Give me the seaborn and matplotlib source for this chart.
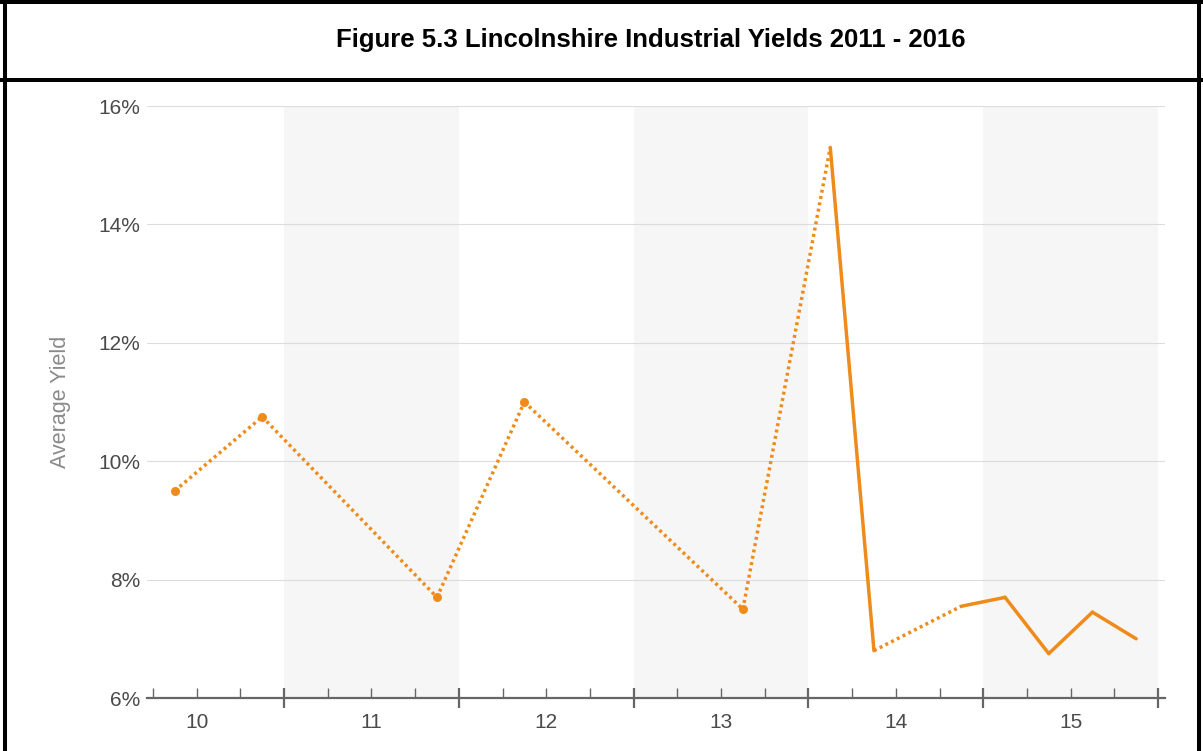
import matplotlib
matplotlib.use("Agg")
import matplotlib.pyplot as plt
from matplotlib.lines import Line2D
from matplotlib.ticker import FuncFormatter
import numpy as np
import pandas as pd
import seaborn as sns

# Quarterly average industrial yields (%)
years = [10, 10, 11, 12, 13, 14, 14, 14, 15, 15, 15, 15]
quarters = [2, 4, 4, 2, 3, 1, 2, 4, 1, 2, 3, 4]
yields = [9.5, 10.75, 7.7, 11.0, 7.5, 15.3, 6.8, 7.55, 7.7, 6.75, 7.45, 7.0]
year_labels = [10, 11, 12, 13, 14, 15]
y_ticks = [6, 8, 10, 12, 14, 16]

TITLE = "Figure 5.3 Lincolnshire Industrial Yields 2011 - 2016"
ORANGE = "#EF8B1A"
AXIS_GREY = "#666666"

sns.set_theme(style="white")
plt.rcParams["font.family"] = ["Liberation Sans", "DejaVu Sans"]

df = pd.DataFrame({"year": years, "quarter": quarters, "yield": yields})
df["pos"] = df["year"] - 0.5 + (df["quarter"] - 0.5) / 4
df["qidx"] = df["year"] * 4 + df["quarter"] - 1

# Split the series into segments: consecutive quarters solid, gaps dotted
rows = []
for i in range(len(df) - 1):
    a, b = df.iloc[i], df.iloc[i + 1]
    kind = "run" if b["qidx"] - a["qidx"] == 1 else "gap"
    for p in (a, b):
        rows.append({"seg": i, "kind": kind, "pos": p["pos"], "yield": p["yield"]})
seg_df = pd.DataFrame(rows)

# Points with no solid neighbour get a marker
consec = np.diff(df["qidx"].values) == 1
has_run = np.zeros(len(df), dtype=bool)
has_run[:-1] |= consec
has_run[1:] |= consec
iso = df[~has_run]

fig = plt.figure(figsize=(12.03, 7.51), dpi=100)
ax = fig.add_axes([147 / 1203, 53 / 751, 1018 / 1203, 592 / 751])

# alternating year bands
for n in year_labels:
    if n % 2 == 1:
        ax.axvspan(n - 0.5, n + 0.5, color="#f6f6f6", lw=0, zorder=0)

sns.lineplot(data=seg_df, x="pos", y="yield", units="seg", style="kind",
             estimator=None, sort=False, dashes={"run": "", "gap": (0.85, 1.0)},
             color=ORANGE, lw=2.5, legend=False, ax=ax, zorder=3)
sns.scatterplot(data=iso, x="pos", y="yield", s=42, color=ORANGE,
                linewidth=0, ax=ax, zorder=4)

ax.set_xlim(9.716, 15.54)
ax.set_ylim(6, 16)
ax.set_yticks(y_ticks)
ax.yaxis.set_major_formatter(FuncFormatter(lambda v, _: f"{v:.0f}%"))
ax.set_axisbelow(True)
ax.grid(axis="y", color="#dcdcdc", lw=0.8)
ax.grid(axis="x", visible=False)

ax.set_xticks(year_labels)
ax.set_xticklabels([str(n) for n in year_labels])
ax.set_xticks([v for n in year_labels for v in (n - 0.25, n + 0.25)], minor=True)
ax.tick_params(axis="x", which="both", direction="in", length=7.2, width=1.0,
               color=AXIS_GREY, bottom=True, labelsize=15, labelcolor="#4a4a4a",
               pad=11)
ax.tick_params(axis="y", length=0, labelsize=15, labelcolor="#4a4a4a", pad=5)

for s in ("left", "top", "right"):
    ax.spines[s].set_visible(False)
ax.spines["bottom"].set_color(AXIS_GREY)
ax.spines["bottom"].set_linewidth(1.6)

# year boundary ticks crossing the axis
sec = ax.secondary_xaxis(0)
sec.set_xticks([n + 0.5 for n in year_labels])
sec.tick_params(direction="inout", length=14.4, width=1.6, color=AXIS_GREY,
                labelbottom=False)
sec.spines["bottom"].set_visible(False)

ax.set_xlabel("")
ax.set_ylabel("Average Yield", fontsize=15.5, color="#8a8a8a")
ax.yaxis.set_label_coords(-0.075, 0.5)

# title panel and frame
fig.text(651 / 1203, 1 - 47 / 751, TITLE, ha="center", va="baseline",
         fontsize=18.5, fontweight="bold", color="black")
lw = 2.9
fig.add_artist(Line2D([0, 1], [1 - 2 / 751] * 2, color="black", lw=lw))
fig.add_artist(Line2D([0, 1], [1 - 80 / 751] * 2, color="black", lw=lw))
fig.add_artist(Line2D([5 / 1203] * 2, [0, 1], color="black", lw=lw))
fig.add_artist(Line2D([1199 / 1203] * 2, [0, 1], color="black", lw=lw))

fig.savefig("out.png", dpi=100)
